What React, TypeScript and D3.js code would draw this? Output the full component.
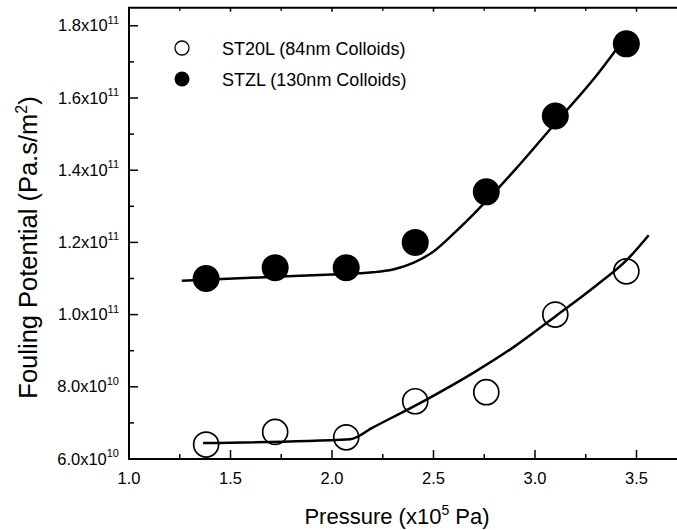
import React from 'react';
import * as d3 from 'd3';

// Measured points: pressure (x10^5 Pa) vs fouling potential (Pa.s/m^2)
const pressure = [1.38, 1.72, 2.07, 2.41, 2.76, 3.1, 3.45];
const st20l = [6.4e10, 6.75e10, 6.6e10, 7.6e10, 7.85e10, 1.0e11, 1.12e11];
const stzl = [1.1e11, 1.13e11, 1.13e11, 1.2e11, 1.34e11, 1.55e11, 1.75e11];

// Fitted trend lines
const st20lFitX = [1.365, 2.09, 2.2, 2.47, 2.7, 2.9, 3.1, 3.3, 3.45, 3.56];
const st20lFitY = [6.44e10, 6.55e10, 6.87e10, 7.66e10, 8.4e10, 9.12e10, 9.95e10, 1.08e11, 1.15e11, 1.22e11];
const stzlFitX = [1.26, 1.6, 2.0, 2.2, 2.3, 2.4, 2.5, 2.6, 2.7, 2.9, 3.1, 3.3, 3.46];
const stzlFitY = [1.094e11, 1.102e11, 1.111e11, 1.117e11, 1.125e11, 1.143e11, 1.175e11, 1.225e11, 1.28e11, 1.4e11, 1.53e11, 1.66e11, 1.78e11];

const xMajor = [1.0, 1.5, 2.0, 2.5, 3.0, 3.5];
const xMinor = [1.25, 1.75, 2.25, 2.75, 3.25, 3.75];
const yMajor = [6e10, 8e10, 1e11, 1.2e11, 1.4e11, 1.6e11, 1.8e11];
const yMinor = [7e10, 9e10, 1.1e11, 1.3e11, 1.5e11, 1.7e11];

const legendLabels = ['ST20L (84nm Colloids)', 'STZL (130nm Colloids)'];

const W = 677;
const H = 530;
const FONT = "'Liberation Sans', Arial, Helvetica, sans-serif";

export default function App() {
  const x = d3.scaleLinear().domain([1.0, 3.7]).range([129, 677.1]);
  const y = d3.scaleLinear().domain([6e10, 1.85e11]).range([459, 7.75]);
  const [x0, x1] = x.range();
  const [y0, y1] = y.range();

  const line = d3
    .line<[number, number]>()
    .x((d) => x(d[0]))
    .y((d) => y(d[1]))
    .curve(d3.curveMonotoneX);

  const st20lPath = line(st20lFitX.map((v, i) => [v, st20lFitY[i]]) as [number, number][]) || '';
  const stzlPath = line(stzlFitX.map((v, i) => [v, stzlFitY[i]]) as [number, number][]) || '';

  const sci = (v: number) => {
    const e = Math.floor(Math.log10(v) + 1e-9);
    const m = v / Math.pow(10, e);
    return { m: m.toFixed(1), e: String(e) };
  };

  const r = 13.5;

  return (
    <svg
      width={W}
      height={H}
      style={{ position: 'absolute', left: 0, top: 0, background: '#fff' }}
      fontFamily={FONT}
    >
      <rect width={W} height={H} fill="#fff" />

      {/* frame */}
      <line x1={x0} x2={x0} y1={y0 + 1} y2={y1} stroke="#000" strokeWidth={2} />
      <line x1={x0 - 1} x2={x1} y1={y0} y2={y0} stroke="#000" strokeWidth={2} />
      <line x1={x0 - 1} x2={x1} y1={y1} y2={y1} stroke="#000" strokeWidth={2} />

      {/* x ticks */}
      {xMajor.map((v) => (
        <g key={'xM' + v}>
          <line x1={x(v)} x2={x(v)} y1={y0} y2={y0 - 9} stroke="#000" strokeWidth={1.5} />
          <line x1={x(v)} x2={x(v)} y1={y1} y2={y1 + 4} stroke="#000" strokeWidth={1.5} />
          <text x={x(v)} y={483.5} textAnchor="middle" fontSize={16.5} fill="#000">
            {v.toFixed(1)}
          </text>
        </g>
      ))}
      {xMinor
        .filter((v) => x(v) < x1)
        .map((v) => (
          <g key={'xm' + v}>
            <line x1={x(v)} x2={x(v)} y1={y0} y2={y0 - 5} stroke="#000" strokeWidth={1.5} />
            <line x1={x(v)} x2={x(v)} y1={y1} y2={y1 + 3} stroke="#000" strokeWidth={1.5} />
          </g>
        ))}

      {/* y ticks */}
      {yMajor.map((v) => {
        const s = sci(v);
        return (
          <g key={'yM' + v}>
            <line x1={x0} x2={x0 + 9} y1={y(v)} y2={y(v)} stroke="#000" strokeWidth={1.5} />
            <text x={119} y={y(v) + 5.5} textAnchor="end" fontSize={16.5} fill="#000">
              {s.m}x10
              <tspan fontSize={11} dy={-7.5}>
                {s.e}
              </tspan>
            </text>
          </g>
        );
      })}
      {yMinor.map((v) => (
        <line key={'ym' + v} x1={x0} x2={x0 + 5} y1={y(v)} y2={y(v)} stroke="#000" strokeWidth={1.5} />
      ))}

      {/* fitted lines */}
      <path d={stzlPath} fill="none" stroke="#000" strokeWidth={2.5} />
      <path d={st20lPath} fill="none" stroke="#000" strokeWidth={2.5} />

      {/* data points */}
      {pressure.map((p, i) => (
        <circle key={'f' + i} cx={x(p)} cy={y(stzl[i])} r={r} fill="#000" />
      ))}
      {pressure.map((p, i) => (
        <circle key={'o' + i} cx={x(p)} cy={y(st20l[i])} r={r - 1} fill="none" stroke="#000" strokeWidth={1.7} />
      ))}

      {/* legend */}
      <circle cx={182} cy={48} r={7} fill="#fff" stroke="#000" strokeWidth={1.3} />
      <text x={222} y={54.5} fontSize={18} fill="#000">
        {legendLabels[0]}
      </text>
      <circle cx={182} cy={79} r={7.5} fill="#000" />
      <text x={222} y={85.5} fontSize={18} fill="#000">
        {legendLabels[1]}
      </text>

      {/* axis titles */}
      <text x={397} y={524} textAnchor="middle" fontSize={22} fill="#000">
        Pressure (x10
        <tspan fontSize={14} dy={-9}>
          5
        </tspan>
        <tspan dy={9}> Pa)</tspan>
      </text>
      <text
        transform={`translate(37, 247.5) rotate(-90)`}
        textAnchor="middle"
        fontSize={25.5}
        fill="#000"
      >
        Fouling Potential (Pa.s/m
        <tspan fontSize={16} dy={-10}>
          2
        </tspan>
        <tspan dy={10}>)</tspan>
      </text>
    </svg>
  );
}
